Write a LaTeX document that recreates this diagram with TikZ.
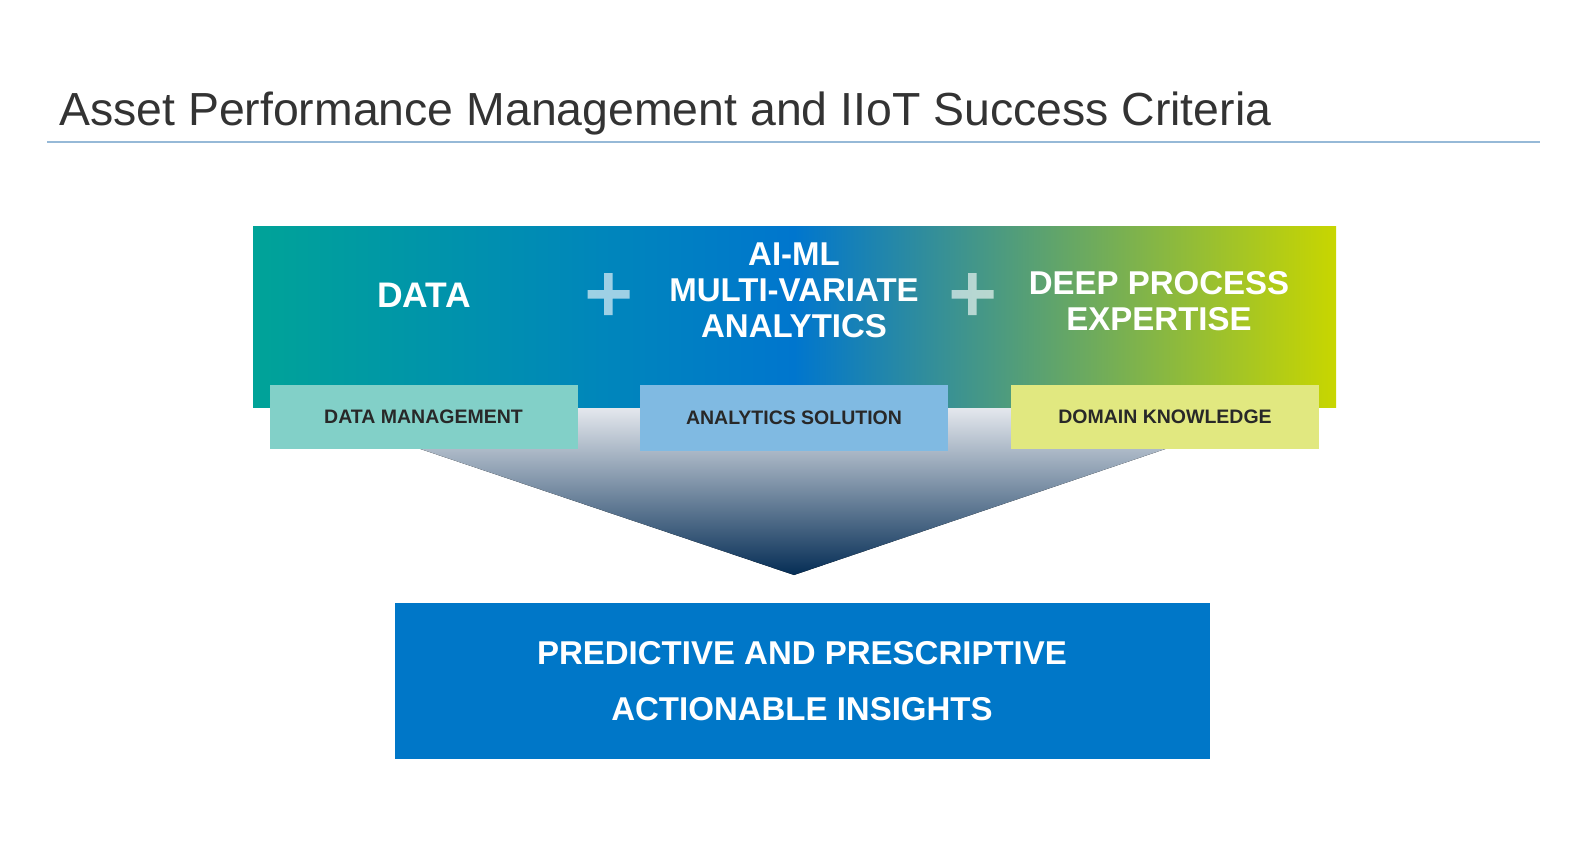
\documentclass[tikz,border=0pt]{standalone}
\usepackage{fontspec}
\setmainfont{Liberation Sans}
\definecolor{tealA}{RGB}{0,163,152}
\definecolor{blueA}{RGB}{0,118,206}
\definecolor{limeA}{RGB}{200,214,0}
\definecolor{titlegray}{RGB}{51,51,51}
\definecolor{rulecol}{RGB}{150,185,215}
\definecolor{dmcol}{RGB}{130,208,200}
\definecolor{ascol}{RGB}{128,186,226}
\definecolor{dkcol}{RGB}{225,232,128}
\definecolor{subtext}{RGB}{40,40,40}
\definecolor{funtop}{RGB}{232,235,240}
\definecolor{funbot}{RGB}{5,45,85}
\definecolor{outcol}{RGB}{0,119,200}
\begin{document}
\begin{tikzpicture}[x=1pt,y=-1pt,
  bigtext/.style={text=white,font=\bfseries\fontsize{33}{36}\selectfont,align=center,inner sep=0pt},
  subbox/.style={minimum width=308pt,minimum height=64pt,inner sep=0pt,text=subtext,font=\bfseries\fontsize{19.5}{22}\selectfont},
  plusmark/.style={fill=white,fill opacity=0.62}
]
\useasboundingbox (0,0) rectangle (1586,850);
% title
\node[anchor=base west,inner sep=0pt,text=titlegray,font=\fontsize{46.4}{50}\selectfont] (title) at (59,126) {Asset Performance Management and IIoT Success Criteria};
\coordinate (ruleL) at (47,142);
\coordinate (ruleR) at (1540,142);
\draw[rulecol,line width=1.2pt] (ruleL) -- (ruleR);
% funnel
\fill[top color=funtop,bottom color=funbot] (290,405) -- (1295,405) -- (794,575) -- cycle;
% banner
\fill[left color=tealA,right color=blueA] (253,227) rectangle (794.5,407);
\fill[left color=blueA,right color=limeA] (794,227) rectangle (1336,407);
% plus signs
\fill[plusmark] (587.5,290) rectangle (629.5,298.5) (604.2,273) rectangle (612.7,315);
\fill[plusmark] (951.5,290) rectangle (993.5,298.5) (968.2,273) rectangle (976.7,315);
% banner texts
\node[bigtext,font=\bfseries\fontsize{35.5}{38}\selectfont] (data) at (424,295.5) {DATA};
\node[bigtext] (aiml) at (794,290) {AI-ML\\MULTI-VARIATE\\ANALYTICS};
\node[bigtext] (deep) at (1159,301) {DEEP PROCESS\\EXPERTISE};
% sub boxes
\node[subbox,fill=dmcol] (dm) at (423.5,417) {DATA MANAGEMENT};
\node[subbox,fill=ascol,minimum height=66pt] (as) at (794,418) {ANALYTICS SOLUTION};
\node[subbox,fill=dkcol] (dk) at (1165,417) {DOMAIN KNOWLEDGE};
% outcome
\node[fill=outcol,minimum width=815pt,minimum height=156pt,inner sep=0pt,text=white,align=center,
  font=\bfseries\fontsize{33}{56}\selectfont] (out) at (802,681) {PREDICTIVE AND PRESCRIPTIVE\\ACTIONABLE INSIGHTS};
\end{tikzpicture}
\end{document}
